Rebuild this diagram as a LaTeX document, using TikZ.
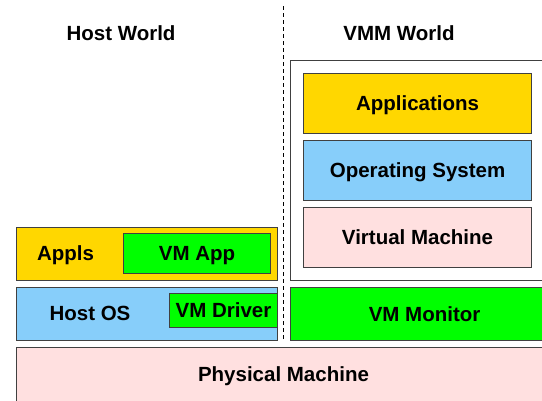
\documentclass[tikz,border=0pt]{standalone}
\usepackage{fontspec}
\setmainfont{Liberation Sans}
\usepackage{tikz}
\usetikzlibrary{positioning}
\definecolor{appyellow}{HTML}{FFD700}
\definecolor{osblue}{HTML}{87CEFA}
\definecolor{machpink}{HTML}{FFE0E0}
\definecolor{vmgreen}{HTML}{00FF00}
\definecolor{edgegray}{HTML}{404040}
\begin{document}
\begin{tikzpicture}[x=1pt, y=-1pt,
    label text/.style={font=\bfseries\fontsize{20.5}{24}\selectfont, text height=14.7pt, text depth=0pt, inner sep=0pt},
    layer/.style={label text, draw=edgegray, line width=1.1pt, anchor=north west},
    divider/.style={black, line width=0.8pt, dash pattern=on 4pt off 3pt}]
    \useasboundingbox (0,0) rectangle (542,400);
    \node[label text] (hostworld) at (121,33) {Host World};
    \node[label text] (vmmworld) at (399,33) {VMM World};
    \coordinate (divtop) at (283,6);
    \coordinate (divbottom) at (283,340);
    \draw[divider] (divtop) -- (divbottom);
    \node[layer, fill=machpink, minimum width=536, minimum height=58] (physical) at (16,347) {};
    \node[label text] (physicallabel) at (283.5,374) {Physical Machine};
    \node[layer, fill=osblue, minimum width=261, minimum height=53] (hostos) at (16,287) {};
    \node[label text] (hostoslabel) at (90,313.5) {Host OS};
    \node[layer, fill=vmgreen, minimum width=108, minimum height=34] (vmdriver) at (169,293) {VM Driver};
    \node[layer, fill=appyellow, minimum width=261, minimum height=53] (appls) at (16,227) {};
    \node[label text] (applslabel) at (65.5,253.5) {Appls};
    \node[layer, fill=vmgreen, minimum width=147, minimum height=40] (vmapp) at (123,233) {VM App};
    \node[layer, fill=vmgreen, minimum width=268, minimum height=53] (monitor) at (290,287) {VM Monitor};
    \node[layer, fill=white, minimum width=256, minimum height=220] (guest) at (290,60) {};
    \node[layer, fill=appyellow, minimum width=228, minimum height=60] (guestapps) at (303,73) {Applications};
    \node[layer, fill=osblue, minimum width=228, minimum height=60] (guestos) at (303,140) {Operating System};
    \node[layer, fill=machpink, minimum width=228, minimum height=60] (guestvm) at (303,207) {Virtual Machine};
\end{tikzpicture}
\end{document}
